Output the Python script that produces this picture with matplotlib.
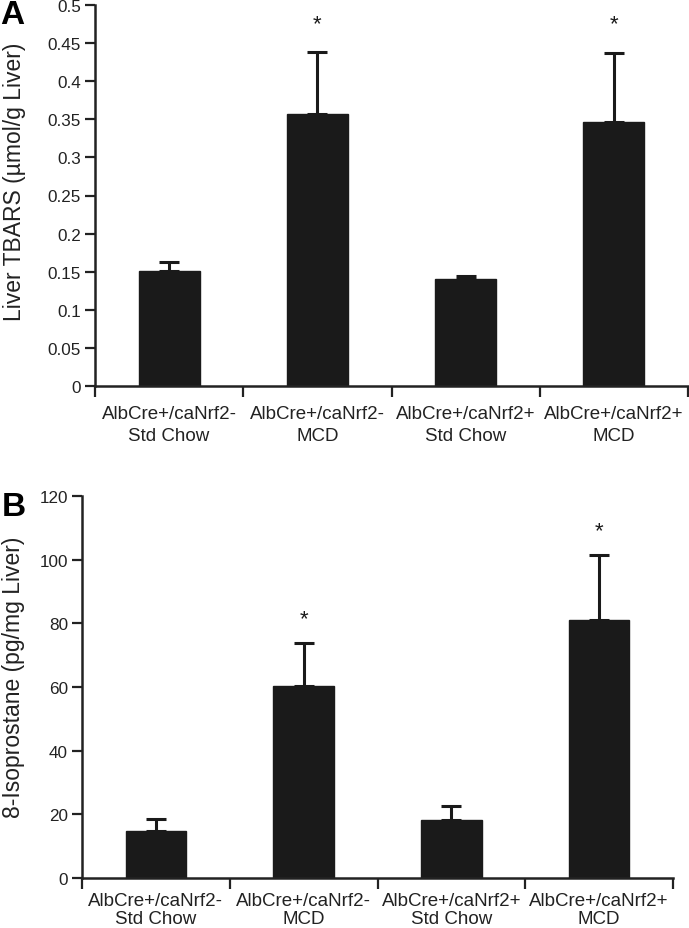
import matplotlib
matplotlib.use("Agg")
import matplotlib.pyplot as plt
import numpy as np

plt.rcParams['font.family'] = ['Liberation Sans', 'DejaVu Sans']

categories = ["AlbCre+/caNrf2-\nStd Chow", "AlbCre+/caNrf2-\nMCD",
              "AlbCre+/caNrf2+\nStd Chow", "AlbCre+/caNrf2+\nMCD"]

tbars_mean = [0.151, 0.357, 0.140, 0.346]
tbars_err = [0.012, 0.081, 0.004, 0.091]
tbars_sig = [False, True, False, True]
tbars_ticks = [0, 0.05, 0.1, 0.15, 0.2, 0.25, 0.3, 0.35, 0.4, 0.45, 0.5]
tbars_ticklabels = ["0", "0.05", "0.1", "0.15", "0.2", "0.25", "0.3", "0.35", "0.4", "0.45", "0.5"]

iso_mean = [14.8, 60.3, 18.2, 81.0]
iso_err = [3.7, 13.5, 4.4, 20.5]
iso_sig = [False, True, False, True]
iso_ticks = [0, 20, 40, 60, 80, 100, 120]

BAR = '#1a1a1a'

fig = plt.figure(figsize=(6.89, 9.29), dpi=100)
W, H = 689, 929

def ax_rect(l, r, t, b):
    return [l / W, 1 - b / H, (r - l) / W, (b - t) / H]

axA = fig.add_axes(ax_rect(95, 688, 6, 387))
axB = fig.add_axes(ax_rect(82, 673, 497, 879))

def draw(ax, means, errs, sig, ymax, ticks, ticklabels, star_off, cat_pad, cat_ls):
    x = np.arange(len(means))
    ax.bar(x, means, width=0.41, color=BAR, edgecolor=BAR, zorder=2)
    ax.errorbar(x, means, yerr=[np.zeros(len(errs)), errs], fmt='none',
                ecolor=BAR, elinewidth=2.2, capsize=7, capthick=2.2, zorder=1)
    for xi, m, e, s in zip(x, means, errs, sig):
        if s:
            ax.annotate('*', (xi, m + e), xytext=(0, star_off), textcoords='offset pixels',
                        ha='center', va='center', fontsize=16, color='#1a1a1a')
    ax.set_xlim(-0.5, len(means) - 0.5)
    ax.set_ylim(0, ymax)
    ax.set_yticks(ticks)
    ax.set_yticklabels(ticklabels, fontsize=12.3, color='#222222')
    ax.set_xticks(x)
    ax.set_xticklabels(categories, fontsize=13.5, color='#222222', linespacing=cat_ls)
    ax.tick_params(axis='x', which='major', length=0, pad=cat_pad)
    ax.set_xticks(np.arange(len(means) + 1) - 0.5, minor=True)
    ax.tick_params(axis='x', which='minor', length=8, width=1.6, direction='out', color='#222222')
    ax.tick_params(axis='y', length=7, width=1.6, direction='out', color='#222222', pad=3)
    for sp in ['top', 'right']:
        ax.spines[sp].set_visible(False)
    for sp in ['left', 'bottom']:
        ax.spines[sp].set_linewidth(1.8)
        ax.spines[sp].set_color('#222222')

draw(axA, tbars_mean, tbars_err, tbars_sig, 0.5, tbars_ticks, tbars_ticklabels, 29, 14, 1.35)
draw(axB, iso_mean, iso_err, iso_sig, 120, iso_ticks, [str(t) for t in iso_ticks], 24, 10, 1.08)

fig.text(15 / W, 1 - 182 / H, "Liver TBARS (\u00b5mol/g Liver)", rotation=90,
         fontsize=16.5, color='#222222', ha='center', va='center')
fig.text(14 / W, 1 - 677 / H, "8-Isoprostane (pg/mg Liver)", rotation=90,
         fontsize=16.5, color='#222222', ha='center', va='center')

fig.text(0 / W, 1 - 0 / H, 'A', fontsize=24, fontweight='bold', va='top', ha='left')
fig.text(2 / W, 1 - 492 / H, 'B', fontsize=24, fontweight='bold', va='top', ha='left')

fig.savefig('out.png', dpi=100)
